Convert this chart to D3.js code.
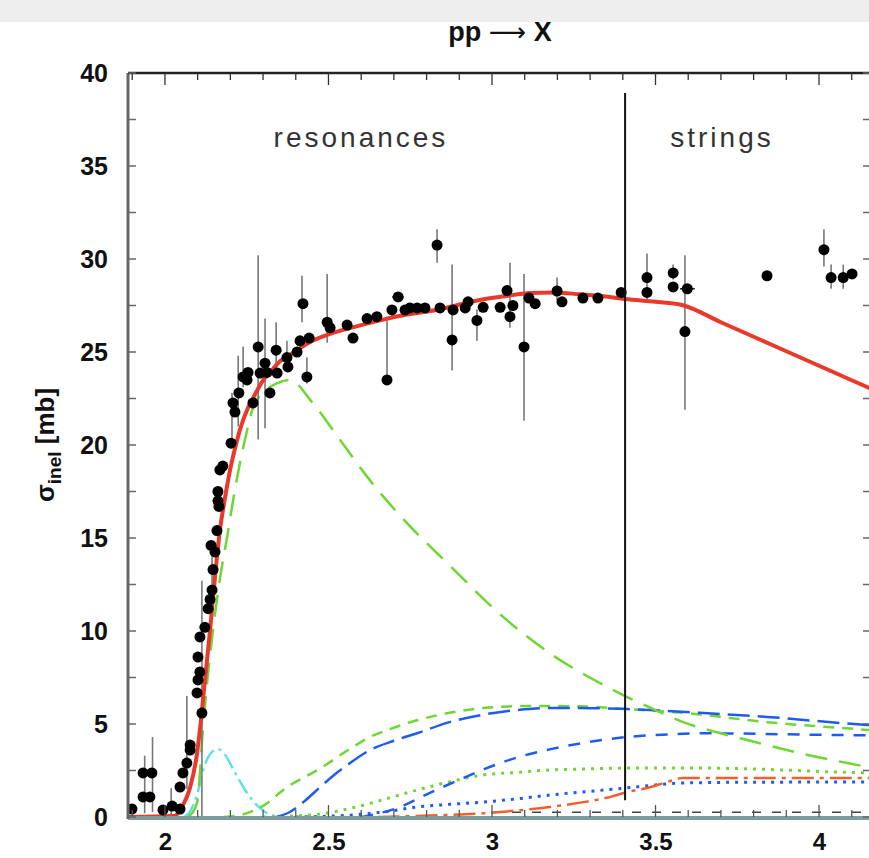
<!DOCTYPE html>
<html><head><meta charset="utf-8">
<script src="https://cdn.jsdelivr.net/npm/d3@7"></script>
<style>body{margin:0;background:#fff}svg{display:block}</style>
</head><body>
<svg id="c" width="869" height="858"></svg>
<script>
// ---------- data ----------
const xTicks = [2, 2.5, 3, 3.5, 4];
const xTickLabels = ["2", "2.5", "3", "3.5", "4"];
const yTicks = [0, 5, 10, 15, 20, 25, 30, 35, 40];
const titleParts = ["pp ", "\u27F6", " X"];
const regionLabels = ["resonances", "strings"];
const separatorX = 3.407;

// experimental points (sqrt(s) [GeV], sigma_inel [mb])
const dataX = [1.899,1.933,1.954,1.933,1.960,1.994,2.022,2.046,2.046,2.055,2.067,2.077,2.077,2.113,2.098,2.101,2.107,2.101,2.107,2.122,2.132,2.138,2.144,2.147,2.153,2.141,2.159,2.165,2.162,2.162,2.168,2.177,2.202,2.208,2.214,2.226,2.239,2.254,2.251,2.269,2.285,2.291,2.306,2.321,2.312,2.340,2.343,2.376,2.373,2.404,2.413,2.422,2.434,2.441,2.496,2.505,2.557,2.575,2.618,2.648,2.679,2.694,2.713,2.734,2.749,2.771,2.795,2.832,2.841,2.881,2.878,2.918,2.927,2.954,2.973,3.025,3.046,3.064,3.055,3.098,3.113,3.132,3.199,3.214,3.278,3.324,3.395,3.474,3.474,3.554,3.554,3.597,3.590,3.841,4.015,4.037,4.074,4.101];
const dataY = [0.43,1.08,1.08,2.37,2.37,0.38,0.59,0.43,1.61,2.37,2.9,3.6,3.87,5.59,6.67,7.37,7.8,8.6,9.68,10.2,11.2,11.7,12.2,13.3,14.25,14.6,15.4,16.7,17.0,17.5,18.66,18.87,20.1,22.26,21.77,22.8,23.66,23.9,23.5,22.26,25.27,23.87,24.4,22.8,23.9,25.1,23.87,24.2,24.7,25.0,25.6,27.6,23.66,25.75,26.6,26.3,26.45,25.75,26.8,26.9,23.5,27.26,27.96,27.26,27.37,27.37,27.37,30.75,27.37,27.26,25.65,27.37,27.7,26.7,27.4,27.4,28.3,27.5,26.9,25.27,27.9,27.6,28.28,27.7,27.9,27.9,28.2,29.0,28.2,29.25,28.5,28.4,26.1,29.1,30.5,29.0,29.0,29.2];

// vertical error bars
const errX  = [1.938,1.962,2.019,2.067,2.113,2.144,2.205,2.224,2.239,2.285,2.306,2.340,2.373,2.419,2.434,2.496,2.679,2.832,2.878,2.954,3.055,3.098,3.199,3.474,3.554,3.590,4.015,4.037,4.074];
const errLo = [0.2,0.27,0,1.5,0,12.5,20.3,21.0,23.1,20.3,20.9,23.9,24.0,26.6,23.3,25.5,23.5,29.8,24.0,25.6,26.3,21.3,27.8,27.8,28.9,21.9,29.6,28.4,28.4];
const errHi = [3.3,4.3,1.55,6.5,12.7,14.7,22.8,24.8,25.3,30.2,26.8,26.6,25.6,29.1,24.7,29.2,26.7,31.6,29.7,27.3,29.8,29.2,29.0,30.3,29.7,30.2,31.6,29.7,29.7];
// horizontal error bars
const hErrY  = [27.96, 26.9, 28.4];
const hErrLo = [2.695, 3.04, 3.575];
const hErrHi = [2.73, 3.07, 3.62];

// model curves
const totalX = [1.887,2.030,2.046,2.077,2.098,2.107,2.122,2.138,2.153,2.168,2.184,2.199,2.214,2.229,2.254,2.269,2.297,2.321,2.352,2.392,2.440,2.505,2.580,2.658,2.735,2.811,2.890,2.963,3.040,3.116,3.190,3.269,3.340,3.407,3.500,3.581,3.700,3.850,4.000,4.100,4.200];
const totalY = [0,0.05,0.4,1.6,3.4,4.7,7.3,10.05,12.9,15.4,17.2,18.65,19.8,20.8,22.0,22.5,23.4,23.9,24.5,24.95,25.5,25.97,26.35,26.7,27.0,27.2,27.5,27.8,28.0,28.17,28.2,28.1,28.0,27.85,27.7,27.53,26.6,25.43,24.26,23.48,22.7];

const resBigX = [2.070,2.098,2.116,2.130,2.147,2.168,2.190,2.210,2.229,2.250,2.269,2.300,2.340,2.382,2.450,2.526,2.618,2.719,2.872,3.025,3.177,3.330,3.407,3.500,3.584,3.700,3.789,3.950,4.147,4.200];
const resBigY = [0,0.75,4.68,7.4,10.05,12.8,15.05,17.2,19.0,20.7,22.0,22.8,23.3,23.5,22.3,20.5,18.3,16.2,13.5,10.9,8.8,7.2,6.5,5.75,5.1,4.5,4.1,3.4,2.69,2.5];

const cyanX = [2.060,2.077,2.098,2.122,2.144,2.162,2.184,2.214,2.245,2.275,2.306,2.352];
const cyanY = [0,0.3,1.2,2.8,3.5,3.65,3.33,2.4,1.45,0.75,0.27,0];

const greenDashX = [2.180,2.230,2.300,2.373,2.474,2.560,2.627,2.700,2.771,2.870,2.973,3.125,3.270,3.413,3.584,3.841,4.147,4.200];
const greenDashY = [0,0.1,0.6,1.6,2.6,3.6,4.3,4.8,5.2,5.6,5.86,5.97,5.95,5.8,5.6,5.1,4.68,4.6];

const blueLongX = [2.340,2.382,2.430,2.474,2.520,2.566,2.627,2.700,2.771,2.870,2.973,3.077,3.177,3.300,3.413,3.636,3.841,4.147,4.200];
const blueLongY = [0,0.27,0.9,1.6,2.3,2.9,3.6,4.1,4.5,5.1,5.5,5.75,5.86,5.85,5.8,5.6,5.38,4.95,4.9];

const blueMedX = [2.600,2.719,2.810,2.900,2.980,3.077,3.180,3.278,3.413,3.550,3.636,4.147,4.200];
const blueMedY = [0,0.54,1.3,2.0,2.6,3.2,3.65,3.98,4.3,4.45,4.5,4.4,4.4];

const greenDotX = [2.300,2.382,2.474,2.575,2.700,2.771,2.872,2.973,3.077,3.177,3.278,3.413,3.636,4.147,4.200];
const greenDotY = [0,0.05,0.16,0.5,1.1,1.45,1.9,2.26,2.4,2.53,2.58,2.63,2.63,2.37,2.35];

const blueDotX = [2.400,2.566,2.680,2.771,2.870,2.973,3.077,3.177,3.300,3.410,3.500,3.584,3.800,4.147,4.200];
const blueDotY = [0,0.1,0.3,0.54,0.68,0.8,0.98,1.18,1.38,1.56,1.72,1.83,1.87,1.88,1.88];

const orangeX = [2.650,2.719,2.850,2.973,3.077,3.177,3.280,3.360,3.413,3.483,3.535,3.584,4.147,4.200];
const orangeY = [0,0.03,0.1,0.2,0.35,0.54,0.8,1.07,1.34,1.6,1.88,2.1,2.1,2.1];

const smallX = [3.000,4.200];
const smallY = [0.25,0.25];

// ---------- drawing ----------
const svg = d3.select("#c");
const L = 128, R = 872, T = 73, B = 817;
const x = d3.scaleLinear().domain([1.887, 4.162]).range([L, R]);
const y = d3.scaleLinear().domain([0, 40]).range([B, T]);

// faded band at top
svg.append("rect").attr("x",0).attr("y",0).attr("width",869).attr("height",22).attr("fill","#eeeeee");

const plot = svg.append("g");
svg.append("defs").append("clipPath").attr("id","clip")
  .append("rect").attr("x",L).attr("y",T).attr("width",R-L).attr("height",B-T+2);
plot.attr("clip-path","url(#clip)");

function curve(xs, ys, color, width, dash) {
  const pts = xs.map((v,i)=>[v, ys[i]]);
  plot.append("path").datum(pts)
    .attr("d", d3.line().x(d=>x(d[0])).y(d=>y(d[1])).curve(d3.curveMonotoneX))
    .attr("fill","none").attr("stroke",color).attr("stroke-width",width)
    .attr("stroke-dasharray", dash || null);
}

const green = "#6fd633", blue = "#1f5bf0";
curve(smallX, smallY, "#444", 1.5, "9,11");
curve(cyanX, cyanY, "#5ee0ee", 2.5, "16,5,3,5");
curve(greenDotX, greenDotY, green, 3, "3,6");
curve(blueDotX, blueDotY, blue, 3, "3,6");
curve(orangeX, orangeY, "#f2602a", 2.5, "22,6,4,6");
curve(blueMedX, blueMedY, blue, 2.5, "12,10");
curve(greenDashX, greenDashY, green, 2.5, "11,8");
curve(blueLongX, blueLongY, blue, 2.5, "22,8");
curve(resBigX, resBigY, green, 2.5, "22,12");

// error bars
errX.forEach((v,i)=>{
  plot.append("line").attr("x1",x(v)).attr("x2",x(v))
    .attr("y1",y(errLo[i])).attr("y2",y(errHi[i]))
    .attr("stroke","#777").attr("stroke-width",1.6);
});
hErrY.forEach((v,i)=>{
  plot.append("line").attr("x1",x(hErrLo[i])).attr("x2",x(hErrHi[i]))
    .attr("y1",y(v)).attr("y2",y(v))
    .attr("stroke","#222").attr("stroke-width",1.6);
});

curve(totalX, totalY, "#e8392a", 4);

// points
plot.selectAll("circle.pt").data(dataX).enter().append("circle")
  .attr("cx",(d)=>x(d)).attr("cy",(d,i)=>y(dataY[i])).attr("r",5.5).attr("fill","#000");

// separator
svg.append("line").attr("x1",x(separatorX)).attr("x2",x(separatorX))
  .attr("y1",93).attr("y2",y(0.9)).attr("stroke","#111").attr("stroke-width",2);

// frame: bottom (teal-gray), left (gray), top (black)
svg.append("line").attr("x1",L).attr("x2",R).attr("y1",B+1).attr("y2",B+1).attr("stroke","#7d9c9c").attr("stroke-width",4);
svg.append("line").attr("x1",L).attr("x2",L).attr("y1",T).attr("y2",B+2).attr("stroke","#666").attr("stroke-width",3);
svg.append("line").attr("x1",L).attr("x2",R).attr("y1",T).attr("y2",T).attr("stroke","#222").attr("stroke-width",2.5);

// minor ticks
const xMinor = d3.range(19, 42).map(k=>k/10);
xMinor.forEach(v=>{
  const major = Math.abs(v*2 - Math.round(v*2)) < 1e-6;
  svg.append("line").attr("x1",x(v)).attr("x2",x(v)).attr("y1",T).attr("y2",T+(major?12:7)).attr("stroke","#333").attr("stroke-width",1.3);
  svg.append("line").attr("x1",x(v)).attr("x2",x(v)).attr("y1",B).attr("y2",B-(major?12:7)).attr("stroke","#555").attr("stroke-width",1.3);
});
const yMinor = d3.range(0, 17).map(k=>k*2.5);
yMinor.forEach(v=>{
  svg.append("line").attr("x1",L).attr("x2",L+8).attr("y1",y(v)).attr("y2",y(v)).attr("stroke","#666").attr("stroke-width",1.5);
  svg.append("line").attr("x1",R-9).attr("x2",R).attr("y1",y(v)).attr("y2",y(v)).attr("stroke","#666").attr("stroke-width",1.5);
});

// axes labels via d3 axes
const font = "'Liberation Sans', Arial, sans-serif";
const xAxis = d3.axisBottom(x).tickValues(xTicks).tickFormat((d,i)=>xTickLabels[i]).tickSize(0).tickPadding(16);
const gx = svg.append("g").attr("transform",`translate(0,${B})`).call(xAxis);
gx.select(".domain").remove();
gx.selectAll("text").attr("font-family",font).attr("font-weight","bold").attr("font-size",24).attr("fill","#111");

const yAxis = d3.axisLeft(y).tickValues(yTicks).tickFormat(d3.format("d")).tickSize(0).tickPadding(20);
const gy = svg.append("g").attr("transform",`translate(${L},0)`).call(yAxis);
gy.select(".domain").remove();
gy.selectAll("text").attr("font-family",font).attr("font-weight","bold").attr("font-size",25).attr("fill","#111");

// title
const tt = svg.append("text").attr("x",500).attr("y",41).attr("text-anchor","middle")
  .attr("font-family",font).attr("font-weight","bold").attr("font-size",27).attr("fill","#111");
tt.append("tspan").text(titleParts[0]);
tt.append("tspan").attr("font-family","'DejaVu Sans', sans-serif").attr("font-weight","normal").attr("font-size",26).text(titleParts[1]);
tt.append("tspan").text(titleParts[2]);

// y label
const yl = svg.append("text").attr("transform","translate(54,445) rotate(-90)").attr("text-anchor","middle")
  .attr("font-family",font).attr("font-weight","bold").attr("font-size",26).attr("fill","#111");
yl.append("tspan").text("\u03c3");
yl.append("tspan").attr("font-size",19).attr("dy",7).text("inel");
yl.append("tspan").attr("dy",-7).text(" [mb]");

// region labels
svg.append("text").attr("x",361).attr("y",147).attr("text-anchor","middle")
  .attr("font-family",font).attr("font-size",28).attr("letter-spacing",3).attr("fill","#333").text(regionLabels[0]);
svg.append("text").attr("x",722).attr("y",147).attr("text-anchor","middle")
  .attr("font-family",font).attr("font-size",28).attr("letter-spacing",3).attr("fill","#333").text(regionLabels[1]);
</script>
</body></html>
